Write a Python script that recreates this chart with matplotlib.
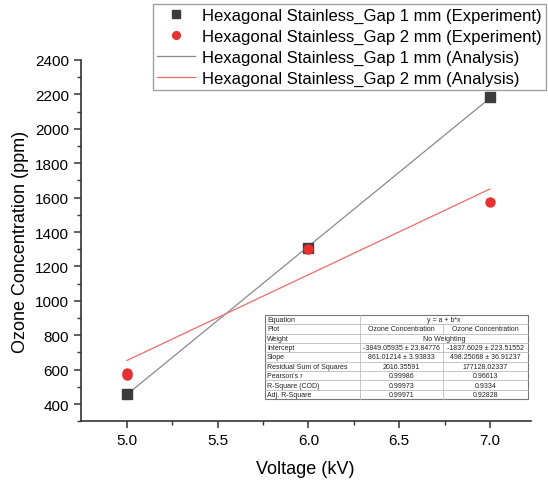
import matplotlib
matplotlib.use('Agg')
import matplotlib.pyplot as plt
import numpy as np

plt.rcParams['font.family'] = ['Liberation Sans', 'DejaVu Sans']

# measured data (Voltage in kV, ozone in ppm)
voltage_gap1 = [5.0, 6.0, 7.0]
ozone_gap1 = [458, 1305, 2185]
voltage_gap2 = [5.0, 5.0, 6.0, 7.0]
ozone_gap2 = [570, 582, 1300, 1575]

# linear fit results y = a + b*x
fit_gap1 = (-3849.05935, 861.01214)
fit_gap2 = (-1837.6029, 498.25068)
fit_range = [5.0, 7.0]

labels = ['Hexagonal Stainless_Gap 1 mm (Experiment)',
          'Hexagonal Stainless_Gap 2 mm (Experiment)',
          'Hexagonal Stainless_Gap 1 mm (Analysis)',
          'Hexagonal Stainless_Gap 2 mm (Analysis)']

table_rows = ['Equation', 'Plot', 'Weight', 'Intercept', 'Slope',
              'Residual Sum of Squares', "Pearson's r", 'R-Square (COD)', 'Adj. R-Square']
table_col1 = ['', 'Ozone Concentration', '', '-3849.05935 \u00b1 23.84776', '861.01214 \u00b1 3.93833',
              '2016.35591', '0.99986', '0.99973', '0.99971']
table_col2 = ['', 'Ozone Concentration', '', '-1837.6029 \u00b1 223.51552', '498.25068 \u00b1 36.91237',
              '177128.02337', '0.96613', '0.9334', '0.92828']
merged = {0: 'y = a + b*x', 2: 'No Weighting'}

W, H = 548, 481
fig = plt.figure(figsize=(W / 100, H / 100), dpi=100)
ax = fig.add_axes([80.7 / W, 1 - 422.3 / H, 450 / W, 361.3 / H])

sq, = ax.plot(voltage_gap1, ozone_gap1, 's', color='#3c3c3c', markersize=6.5, linestyle='none', zorder=3)
dot, = ax.plot(voltage_gap2, ozone_gap2, 'o', color='#e83030', markersize=6.5, linestyle='none', zorder=3)
xf = np.array(fit_range)
l1, = ax.plot(xf, fit_gap1[0] + fit_gap1[1] * xf, color='#8a8a8a', lw=0.9, zorder=2)
l2, = ax.plot(xf, fit_gap2[0] + fit_gap2[1] * xf, color='#f26a6a', lw=0.9, zorder=2)

ax.set_xlim(4.745, 7.225)
ax.set_ylim(300, 2400)
ax.set_xticks([5.0, 5.5, 6.0, 6.5, 7.0])
ax.set_xticks(np.arange(5.25, 7.2, 0.5), minor=True)
ax.set_yticks(np.arange(400, 2401, 200))
ax.set_yticks(np.arange(300, 2400, 100), minor=True)
ax.spines['top'].set_visible(False)
ax.spines['right'].set_visible(False)
for s in ['left', 'bottom']:
    ax.spines[s].set_linewidth(1.2)
    ax.spines[s].set_color('#333333')
ax.tick_params(which='major', direction='out', length=5, width=1.1, labelsize=11, color='#333333')
ax.tick_params(which='minor', direction='out', length=3, width=1, color='#333333')
ax.set_xlabel('Voltage (kV)', fontsize=13, labelpad=9)
ax.set_ylabel('Ozone Concentration (ppm)', fontsize=13)

leg = fig.legend([sq, dot, l1, l2], labels, loc='upper right',
                 bbox_to_anchor=(546 / W, 1 - 5 / H), borderaxespad=0,
                 fontsize=12, fancybox=False, edgecolor='#888888',
                 handlelength=2.3, handletextpad=0.4, labelspacing=0.34,
                 borderpad=0.25, markerscale=0.85)
leg.get_frame().set_linewidth(1.0)

# fit result table
left, top = 265, 316
col_w = [95, 83, 85]
row_h = 84 / 9
tax = fig.add_axes([0, 0, 1, 1])
tax.set_xlim(0, W)
tax.set_ylim(H, 0)
tax.axis('off')
total_w = sum(col_w)
tax.add_patch(plt.Rectangle((left, top), total_w, row_h * 9, facecolor='white',
                            edgecolor='#777777', lw=0.8, zorder=1))
for i in range(1, 9):
    y = top + i * row_h
    tax.plot([left, left + total_w], [y, y], color='#bbbbbb', lw=0.6, zorder=2)
x1 = left + col_w[0]
x2 = x1 + col_w[1]
tax.plot([x1, x1], [top, top + 9 * row_h], color='#bbbbbb', lw=0.6, zorder=2)
for i in range(9):
    y0 = top + i * row_h
    if i not in merged:
        tax.plot([x2, x2], [y0, y0 + row_h], color='#bbbbbb', lw=0.6, zorder=2)
    yc = y0 + row_h / 2
    tax.text(left + 2, yc, table_rows[i], fontsize=5, va='center', ha='left', color='#222222', zorder=3)
    if i in merged:
        tax.text((x1 + left + total_w) / 2, yc, merged[i], fontsize=5, va='center', ha='center',
                 color='#222222', zorder=3)
    else:
        tax.text(x1 + col_w[1] / 2, yc, table_col1[i], fontsize=5, va='center', ha='center',
                 color='#222222', zorder=3)
        tax.text(x2 + col_w[2] / 2, yc, table_col2[i], fontsize=5, va='center', ha='center',
                 color='#222222', zorder=3)

fig.savefig('out.png', dpi=100)
